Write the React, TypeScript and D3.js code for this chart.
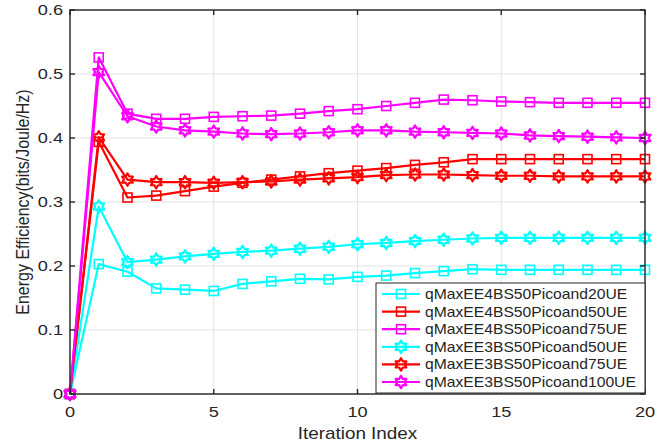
import React, { useEffect, useRef } from 'react'
import * as d3 from 'd3'

// iteration index on the x axis
const iterations = [0, 1, 2, 3, 4, 5, 6, 7, 8, 9, 10, 11, 12, 13, 14, 15, 16, 17, 18, 19, 20]
const xTicks = [0, 5, 10, 15, 20]
const yTicks = [0, 0.1, 0.2, 0.3, 0.4, 0.5, 0.6]

const seriesNames = [
  'qMaxEE4BS50Picoand20UE',
  'qMaxEE4BS50Picoand50UE',
  'qMaxEE4BS50Picoand75UE',
  'qMaxEE3BS50Picoand50UE',
  'qMaxEE3BS50Picoand75UE',
  'qMaxEE3BS50Picoand100UE'
]
const seriesColors = ['#00ffff', '#ff0000', '#ff00ff', '#00ffff', '#ff0000', '#ff00ff']
const seriesMarkers = ['square', 'square', 'square', 'hexagram', 'hexagram', 'hexagram']

const ee4bs20 = [0, 0.203, 0.191, 0.165, 0.163, 0.161, 0.172, 0.176, 0.18, 0.179, 0.183, 0.185, 0.189, 0.192, 0.195, 0.194, 0.194, 0.194, 0.194, 0.194, 0.194]
const ee4bs50 = [0, 0.394, 0.307, 0.31, 0.317, 0.324, 0.33, 0.335, 0.34, 0.345, 0.349, 0.353, 0.358, 0.362, 0.367, 0.367, 0.367, 0.367, 0.367, 0.367, 0.367]
const ee4bs75 = [0, 0.526, 0.438, 0.43, 0.43, 0.433, 0.434, 0.435, 0.438, 0.442, 0.445, 0.45, 0.455, 0.46, 0.459, 0.457, 0.456, 0.455, 0.455, 0.455, 0.455]
const ee3bs50 = [0, 0.293, 0.206, 0.21, 0.215, 0.219, 0.222, 0.224, 0.227, 0.23, 0.234, 0.236, 0.239, 0.241, 0.243, 0.244, 0.244, 0.244, 0.244, 0.244, 0.244]
const ee3bs75 = [0, 0.401, 0.335, 0.331, 0.331, 0.33, 0.331, 0.332, 0.335, 0.337, 0.339, 0.342, 0.343, 0.343, 0.342, 0.341, 0.341, 0.34, 0.34, 0.34, 0.34]
const ee3bs100 = [0, 0.503, 0.434, 0.418, 0.412, 0.41, 0.407, 0.406, 0.407, 0.409, 0.412, 0.412, 0.41, 0.409, 0.408, 0.407, 0.404, 0.403, 0.402, 0.401, 0.4]

const seriesValues = [ee4bs20, ee4bs50, ee4bs75, ee3bs50, ee3bs75, ee3bs100]

const FONT = '"Liberation Sans", Arial, sans-serif'
const TEXT = '#262626'

// six pointed star (matlab 'h' marker)
function hexagram(R: number) {
  const r = R / Math.sqrt(3)
  const pts: [number, number][] = []
  for (let i = 0; i < 12; i++) {
    const a = -Math.PI / 2 + (i * Math.PI) / 6
    const rr = i % 2 === 0 ? R : r
    pts.push([rr * Math.cos(a), rr * Math.sin(a)])
  }
  return 'M' + pts.map((p) => p[0].toFixed(2) + ',' + p[1].toFixed(2)).join('L') + 'Z'
}

function drawMarker(g: any, type: string, x: number, y: number, color: string) {
  if (type === 'square') {
    g.append('rect')
      .attr('x', x - 4.5)
      .attr('y', y - 4.5)
      .attr('width', 9)
      .attr('height', 9)
      .attr('fill', 'none')
      .attr('stroke', color)
      .attr('stroke-width', 1.6)
  } else {
    g.append('path')
      .attr('d', hexagram(6.2))
      .attr('transform', `translate(${x},${y})`)
      .attr('fill', 'none')
      .attr('stroke', color)
      .attr('stroke-width', 2.2)
      .attr('stroke-linejoin', 'round')
  }
}

const App = () => {
  const ref = useRef<SVGSVGElement>(null)

  useEffect(() => {
    const svg = d3.select(ref.current)
    svg.selectAll('*').remove()

    const left = 70
    const right = 645
    const top = 10
    const bottom = 394

    const xScale = d3.scaleLinear().domain([0, 20]).range([left, right])
    const yScale = d3.scaleLinear().domain([0, 0.6]).range([bottom, top])

    svg.append('rect').attr('width', 665).attr('height', 447).attr('fill', '#fff')

    // grid
    const grid = svg.append('g')
    xTicks.forEach((t) => {
      grid.append('line')
        .attr('x1', xScale(t)).attr('x2', xScale(t))
        .attr('y1', top).attr('y2', bottom)
        .attr('stroke', '#e3e3e3').attr('stroke-width', 1)
    })
    yTicks.forEach((t) => {
      grid.append('line')
        .attr('x1', left).attr('x2', right)
        .attr('y1', yScale(t)).attr('y2', yScale(t))
        .attr('stroke', '#e3e3e3').attr('stroke-width', 1)
    })

    // series
    const line = d3
      .line<number>()
      .x((d, i) => xScale(iterations[i]))
      .y((d) => yScale(d))

    seriesValues.forEach((vals, k) => {
      const g = svg.append('g')
      g.append('path')
        .datum(vals)
        .attr('d', line)
        .attr('fill', 'none')
        .attr('stroke', seriesColors[k])
        .attr('stroke-width', 2.2)
        .attr('stroke-linejoin', 'round')
      vals.forEach((v, i) => {
        drawMarker(g, seriesMarkers[k], xScale(iterations[i]), yScale(v), seriesColors[k])
      })
    })

    // axes box + inward ticks
    const ax = svg.append('g').attr('stroke', TEXT).attr('stroke-width', 1.4)
    ax.append('rect')
      .attr('x', left).attr('y', top)
      .attr('width', right - left).attr('height', bottom - top)
      .attr('fill', 'none')
    xTicks.forEach((t) => {
      ax.append('line').attr('x1', xScale(t)).attr('x2', xScale(t)).attr('y1', bottom).attr('y2', bottom - 5)
      ax.append('line').attr('x1', xScale(t)).attr('x2', xScale(t)).attr('y1', top).attr('y2', top + 5)
    })
    yTicks.forEach((t) => {
      ax.append('line').attr('x1', left).attr('x2', left + 5).attr('y1', yScale(t)).attr('y2', yScale(t))
      ax.append('line').attr('x1', right).attr('x2', right - 5).attr('y1', yScale(t)).attr('y2', yScale(t))
    })

    // tick labels
    xTicks.forEach((t) => {
      svg.append('text')
        .attr('transform', `translate(${xScale(t)},416.5) scale(1.3,1)`)
        .attr('text-anchor', 'middle')
        .attr('font-family', FONT).attr('font-size', 14).attr('fill', TEXT)
        .text(d3.format('d')(t))
    })
    yTicks.forEach((t) => {
      svg.append('text')
        .attr('transform', `translate(63,${yScale(t) + 5}) scale(1.3,1)`)
        .attr('text-anchor', 'end')
        .attr('font-family', FONT).attr('font-size', 14).attr('fill', TEXT)
        .text(t === 0 ? '0' : d3.format('.1f')(t))
    })

    // axis titles
    svg.append('text')
      .attr('transform', `translate(${(left + right) / 2},439) scale(1.18,1)`)
      .attr('text-anchor', 'middle')
      .attr('font-family', FONT).attr('font-size', 16).attr('fill', TEXT)
      .text('Iteration Index')
    svg.append('text')
      .attr('transform', `translate(29,${(top + bottom) / 2}) scale(1.18,1) rotate(-90)`)
      .attr('text-anchor', 'middle')
      .attr('font-family', FONT).attr('font-size', 16).attr('fill', TEXT)
      .text('Energy Efficiency(bits/Joule/Hz)')

    // legend
    const lg = svg.append('g')
    lg.append('rect')
      .attr('x', 376).attr('y', 283)
      .attr('width', 269).attr('height', 110)
      .attr('fill', '#fff').attr('stroke', TEXT).attr('stroke-width', 1)
    seriesNames.forEach((name, k) => {
      const cy = 294 + k * 17.6
      lg.append('line')
        .attr('x1', 382).attr('x2', 420).attr('y1', cy).attr('y2', cy)
        .attr('stroke', seriesColors[k]).attr('stroke-width', 2.2)
      drawMarker(lg, seriesMarkers[k], 401, cy, seriesColors[k])
      lg.append('text')
        .attr('transform', `translate(425,${cy + 5}) scale(1.12,1)`)
        .attr('font-family', FONT).attr('font-size', 14).attr('fill', TEXT)
        .text(name)
    })
  }, [])

  return (
    <svg
      ref={ref}
      width={665}
      height={447}
      style={{ position: 'absolute', left: 0, top: 0 }}
    />
  )
}

export default App
